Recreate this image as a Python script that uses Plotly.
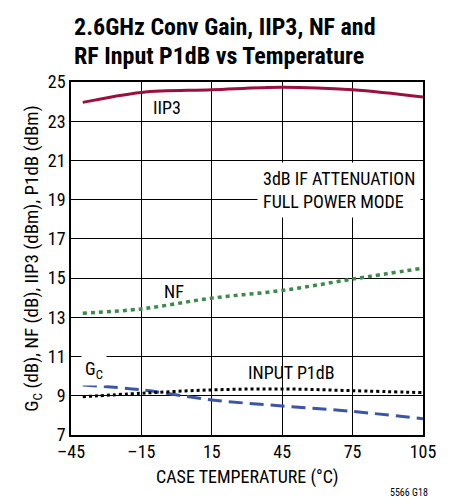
import plotly.graph_objects as go

temp = [-40, -15, 15, 45, 75, 105]
iip3 = [23.96, 24.47, 24.6, 24.73, 24.6, 24.23]
nf = [13.21, 13.43, 13.98, 14.37, 14.95, 15.51]
gc = [9.55, 9.3, 8.79, 8.48, 8.2, 7.83]
p1db = [8.95, 9.13, 9.3, 9.35, 9.26, 9.16]

xticks = [-45, -15, 15, 45, 75, 105]
xticktext = ["\u201345", "\u201315", "15", "45", "75", "105"]
yticks = [7, 9, 11, 13, 15, 17, 19, 21, 23, 25]

FONT = "Liberation Sans Narrow, Roboto Condensed, Arial Narrow, Roboto, sans-serif"

fig = go.Figure()
fig.add_trace(go.Scatter(x=temp, y=iip3, mode="lines", line=dict(color="#9b0f3e", width=3, shape="spline")))
fig.add_trace(go.Scatter(x=temp, y=nf, mode="lines", line=dict(color="#3c8a4c", width=3.5, dash="4px,4px", shape="spline")))
fig.add_trace(go.Scatter(x=temp, y=gc, mode="lines", line=dict(color="#3b56a6", width=3, dash="14px,7px", shape="spline")))
fig.add_trace(go.Scatter(x=temp, y=p1db, mode="lines", line=dict(color="black", width=3, dash="dot", shape="spline")))

ann_font = dict(family=FONT, size=18, color="black")
fig.add_annotation(x=-4, y=23.7, text="IIP3", showarrow=False, font=ann_font)
fig.add_annotation(x=-1, y=14.3, text="NF", showarrow=False, font=ann_font)
fig.add_annotation(x=-35, y=10.3, text="G<sub>C</sub>", showarrow=False, font=ann_font,
                   bgcolor="white", borderpad=3)
fig.add_annotation(x=49, y=10.2, text="INPUT P1dB", showarrow=False, font=ann_font)
fig.add_annotation(x=69, y=19.5, text="3dB IF ATTENUATION<br>FULL POWER MODE", showarrow=False,
                   font=ann_font, align="left", bgcolor="white", borderpad=5)
fig.add_annotation(xref="paper", yref="paper", x=0.5, y=-0.12, text="CASE TEMPERATURE (\u00b0C)",
                   showarrow=False, xanchor="center", yanchor="middle", font=ann_font)
fig.add_annotation(xref="paper", yref="paper", x=1.02, y=-0.164, text="5566 G18", showarrow=False,
                   xanchor="right", yanchor="middle", font=dict(family=FONT, size=10, color="black"))
title_font = dict(family=FONT, size=24, color="black")
fig.add_annotation(xref="paper", yref="paper", x=0.003, y=1.155, xanchor="left", yanchor="middle",
                   text="<b>2.6GHz Conv Gain, IIP3, NF and</b>", showarrow=False, font=title_font)
fig.add_annotation(xref="paper", yref="paper", x=0.003, y=1.073, xanchor="left", yanchor="middle",
                   text="<b>RF Input P1dB vs Temperature</b>", showarrow=False, font=title_font)

fig.update_layout(
    width=452, height=501,
    margin=dict(l=71, r=29, t=82, b=66),
    paper_bgcolor="white", plot_bgcolor="white",
    showlegend=False,
    font=dict(family=FONT, size=18, color="black"),
    xaxis=dict(range=[-45, 105], tickvals=xticks, ticktext=xticktext,
               showgrid=True, gridcolor="black", gridwidth=1,
               showline=True, linecolor="black", linewidth=1.5, mirror=True,
               zeroline=False, ticks="", tickfont=dict(size=18)),
    yaxis=dict(range=[7, 25], tickvals=yticks,
               showgrid=True, gridcolor="black", gridwidth=1,
               showline=True, linecolor="black", linewidth=1.5, mirror=True,
               zeroline=False, ticks="", tickfont=dict(size=18),
               title=dict(text="G<sub>C</sub> (dB), NF (dB), IIP3 (dBm), P1dB (dBm)", font=dict(size=19), standoff=4)),
)

fig.write_html("out.html", config={"displayModeBar": False},
               post_script="document.body.style.margin='0';document.body.style.overflow='hidden';")
